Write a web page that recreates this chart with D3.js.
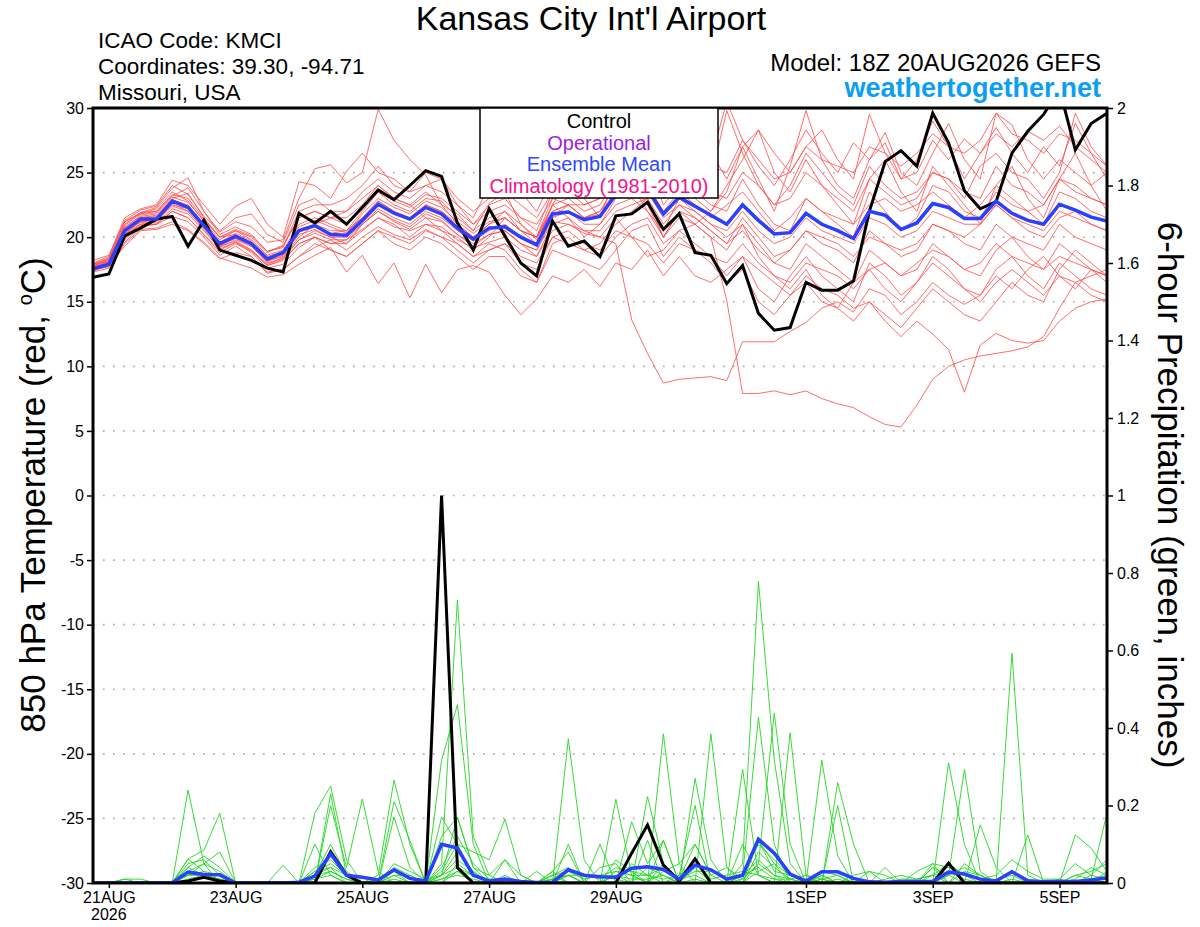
<!DOCTYPE html>
<html>
<head>
<meta charset="utf-8">
<script src="https://d3js.org/d3.v7.min.js"></script>
<style>
  html, body { margin: 0; padding: 0; background: #fff; }
  svg { display: block; font-family: "Liberation Sans", Arial, Helvetica, sans-serif; }
</style>
</head>
<body>
<div id="chart"></div>
<script>
// run info
const runStart = Date.UTC(2026, 7, 20, 18);
const stepHours = 6;

// 850 hPa temperature, control run (deg C)
const tempControl = [
  16.9,17.15,20.1,20.7,21.4,21.6,19.3,21.3,19.0,18.6,18.2,17.6,17.3,
  21.85,21.1,22.0,21.0,22.3,23.65,22.9,24.0,25.15,24.7,21.1,19.0,22.2,
  20.1,18.0,17.0,21.25,19.3,19.7,18.5,21.65,21.8,22.7,20.6,21.8,18.8,
  18.6,16.4,17.8,14.1,12.8,13.0,16.5,15.9,15.9,16.6,22.0,25.85,26.7,
  25.5,29.6,27.3,23.6,22.2,22.75,26.5,28.2,29.5,31.5,26.75,28.8,29.6
];
// ensemble mean temperature
const tempMean = [
  17.55,17.9,20.5,21.4,21.4,22.8,22.3,20.9,19.5,20.05,19.5,18.3,18.8,
  20.5,20.9,20.2,20.15,21.3,22.55,21.85,21.4,22.3,21.8,20.7,19.85,20.7,
  20.8,20.0,19.4,21.8,21.95,21.35,21.6,23.3,23.6,23.7,21.8,23.1,22.4,
  21.7,21.0,22.5,21.3,20.25,20.35,21.85,21.0,20.5,19.9,22.0,21.7,20.6,
  21.1,22.6,22.3,21.45,21.45,22.8,21.85,21.3,21.0,22.55,22.1,21.55,21.25
];
// 6-hour precipitation, control run (inches)
const precipControl = [
  0,0,0,0,0,0,0.005,0.015,0.005,0,0,0,0,
  0,0,0.081,0.02,0,0,0,0,0,1.0,0.04,0,0,
  0,0,0,0,0,0,0,0,0.077,0.15,0.046,0.005,0.062,
  0,0,0,0,0,0,0,0,0,0,0,0,0,
  0,0,0.051,0,0,0,0,0,0,0.004,0,0,0
];
// ensemble mean precipitation
const precipMean = [
  0,0,0,0,0,0.001,0.028,0.022,0.021,0,0,0,0,
  0.002,0.018,0.075,0.02,0.015,0.008,0.034,0.012,0.005,0.1,0.09,0.02,0.005,
  0.01,0.004,0.001,0.002,0.034,0.02,0.016,0.015,0.038,0.042,0.035,0.01,0.046,
  0.034,0.01,0.02,0.113,0.077,0.023,0.005,0.029,0.029,0.012,0.003,0.002,0.004,
  0.004,0.004,0.028,0.023,0.01,0.005,0.029,0.006,0.003,0.004,0.004,0.008,0.013
];

// ensemble members, temperature
const tempMembers = [
  [17.9,18.4,21.2,21.9,22.3,23.8,24.6,22.0,20.4,21.2,20.8,19.6,19.8,
   23.0,25.3,25.6,24.2,25.0,29.9,27.5,26.0,24.8,22.5,21.8,20.5,22.6,
   23.5,21.0,19.8,22.5,24.6,23.0,21.5,25.0,24.0,22.0,20.5,23.0,25.5,
   26.6,24.5,27.0,28.3,25.0,23.5,26.0,24.0,22.5,21.0,24.5,26.0,23.5,
   22.0,25.5,24.0,22.5,21.0,24.0,25.5,23.0,21.5,24.5,26.5,24.0,22.0],
  [17.4,17.8,19.6,20.8,21.0,22.0,21.5,20.2,19.0,19.6,18.8,17.6,17.9,
   19.2,20.0,19.5,19.8,20.6,21.5,20.8,20.5,21.0,20.8,19.8,19.2,19.6,
   20.0,19.0,18.5,20.5,21.0,20.3,20.0,21.5,20.0,18.5,19.0,20.5,21.0,
   20.0,15.1,7.9,7.9,8.1,7.8,8.1,7.5,7.1,6.8,6.1,5.5,5.3,
   7.0,9.0,10.0,10.5,10.8,11.0,11.2,11.5,12.3,14.5,16.5,17.0,17.5],
  [17.6,18.0,20.2,21.0,21.2,22.4,22.0,20.6,19.2,19.8,19.3,18.0,18.4,
   19.8,20.5,20.0,19.5,21.0,22.0,21.2,20.6,21.5,21.2,20.2,19.5,20.2,
   20.5,19.5,19.0,21.2,21.0,20.5,20.0,19.5,13.6,11.0,8.7,9.0,9.1,
   9.2,8.9,11.9,11.9,11.9,12.7,13.4,14.5,15.0,14.2,16.0,15.5,14.0,
   15.0,16.5,15.5,14.8,15.5,17.0,16.0,17.5,18.5,17.0,16.0,17.5,16.5],
  [17.5,17.7,19.8,20.9,21.0,21.6,21.2,20.0,18.6,19.3,18.5,17.2,17.5,
   18.5,19.2,19.8,19.0,20.0,20.8,20.2,19.8,20.6,20.0,19.5,18.5,19.0,
   19.5,18.0,17.5,20.0,20.5,19.5,19.0,20.5,20.0,19.5,18.0,19.5,19.0,
   18.5,17.0,18.5,17.5,16.5,15.5,17.0,16.0,15.5,14.5,15.0,13.5,12.3,
   13.5,12.5,11.3,8.0,11.65,12.55,12.0,11.8,12.0,13.5,14.5,15.0,15.2],
  [18.0,18.5,21.5,22.2,22.5,24.4,24.0,22.5,21.0,22.4,23.0,21.0,20.0,
   24.3,24.0,23.0,25.1,26.5,25.0,24.5,23.5,25.0,24.5,22.5,21.5,24.0,
   25.0,23.5,22.0,24.5,26.0,25.5,24.0,27.0,28.0,26.5,24.0,27.5,28.5,
   26.0,30.5,27.5,25.5,24.0,26.0,28.3,26.5,25.0,27.3,26.0,28.1,25.0,
   24.0,26.5,28.8,26.0,24.5,29.6,28.7,26.0,24.5,26.0,25.0,24.0,25.0],
  [17.7,18.1,20.8,21.6,21.8,23.0,23.4,21.5,20.0,20.5,19.8,18.6,19.0,
   21.0,21.5,21.0,20.5,22.0,23.5,22.5,22.0,23.0,22.8,21.5,20.5,21.5,
   22.0,20.5,20.0,22.5,23.0,22.0,22.5,24.5,25.0,25.5,23.0,24.5,23.5,
   22.5,22.0,24.5,22.5,21.0,20.5,23.0,22.0,21.0,20.0,23.5,22.0,20.5,
   21.5,24.0,23.5,22.0,21.5,23.5,22.5,22.0,21.0,23.5,23.0,22.0,21.5],
  [17.3,17.6,19.5,20.6,20.7,21.2,20.6,19.6,18.4,18.0,17.6,16.9,17.1,
   17.9,18.6,19.2,17.3,18.6,16.4,18.0,15.3,17.9,15.7,17.5,17.8,17.3,
   15.5,14.0,15.2,17.0,16.5,17.5,16.2,18.0,17.5,19.0,17.0,18.5,17.0,
   16.5,17.5,18.5,16.0,15.0,17.0,18.5,17.0,16.0,15.0,18.0,17.0,15.5,
   16.5,18.0,17.0,16.0,15.5,17.5,18.5,17.0,16.0,18.0,17.0,16.0,15.5],
  [17.8,18.2,21.0,21.9,22.0,23.2,23.8,22.0,20.2,20.8,20.2,18.9,19.2,
   22.0,22.5,22.5,23.0,24.0,25.5,24.0,23.5,24.0,23.5,22.5,21.0,22.5,
   23.0,21.5,20.5,23.5,24.5,23.0,23.5,26.0,26.5,27.0,25.0,26.0,25.5,
   24.5,29.8,26.5,24.0,22.5,24.0,26.5,25.0,23.5,22.5,25.5,24.0,23.0,
   23.5,25.0,24.5,23.0,25.5,26.5,25.0,24.5,23.0,25.0,29.6,27.0,25.5],
  [17.5,17.9,20.3,21.2,21.3,22.6,22.0,20.7,19.4,19.9,19.3,18.1,18.6,
   20.2,20.6,20.0,20.0,21.0,22.2,21.5,21.0,22.0,21.5,20.5,19.7,20.5,
   21.0,20.0,19.5,21.5,22.0,21.0,21.0,22.5,23.0,23.5,21.5,22.5,22.0,
   21.0,20.5,22.0,20.5,19.5,20.0,21.5,20.5,20.0,19.5,21.5,21.0,20.0,
   20.5,22.0,21.5,21.0,21.0,22.5,21.5,21.0,20.5,22.0,21.5,21.0,20.5],
  [17.9,18.3,21.2,21.8,22.2,23.5,22.8,21.2,19.8,20.5,20.0,18.8,19.4,
   21.5,22.0,21.5,21.0,22.5,24.0,23.0,22.5,23.5,22.5,21.0,20.0,21.0,
   22.0,21.0,20.0,23.0,22.5,21.5,22.0,24.0,25.5,26.0,22.5,24.0,23.0,
   22.0,24.0,26.0,28.3,26.5,25.0,27.0,28.3,26.0,24.5,29.5,26.5,24.5,
   25.0,27.5,26.0,27.6,26.5,28.0,27.0,28.2,27.5,28.6,27.0,26.0,25.0],
  [17.6,17.9,20.0,21.0,21.0,22.0,21.5,20.2,18.8,19.5,18.9,17.8,18.2,
   19.5,20.0,19.5,19.5,20.5,21.5,21.0,20.0,21.0,20.5,19.5,18.5,19.5,
   19.0,17.5,16.5,19.0,18.5,18.0,17.5,19.0,20.5,21.0,18.5,20.0,19.0,
   18.0,16.5,17.5,15.0,14.0,15.5,16.5,15.0,14.5,16.5,17.5,16.0,15.0,
   16.5,18.5,17.5,16.0,15.0,16.5,17.5,16.5,15.5,17.0,16.5,15.5,15.0],
  [17.4,17.8,19.9,21.1,21.5,22.9,22.5,21.0,19.6,20.3,19.7,18.5,18.9,
   20.8,21.3,20.8,20.3,21.8,23.0,22.3,21.8,22.8,22.3,21.2,20.3,21.2,
   21.5,20.5,20.0,22.0,22.5,21.5,21.8,23.5,24.5,24.0,22.0,23.5,22.5,
   21.5,22.5,23.5,22.0,20.5,21.5,23.0,22.0,21.5,21.0,22.5,23.0,22.0,
   22.5,23.5,22.5,21.5,22.5,24.0,23.0,22.0,22.5,24.5,23.5,23.0,22.5],
  [17.7,18.0,20.6,21.5,21.6,22.7,22.2,20.8,19.3,20.0,19.6,18.4,18.7,
   20.4,20.8,20.3,20.5,21.5,22.8,22.0,21.5,22.5,22.0,20.8,20.0,20.8,
   20.5,19.5,19.0,21.5,22.5,22.5,23.0,24.5,23.0,22.0,20.0,22.0,21.5,
   20.5,19.5,21.5,20.0,18.5,19.0,20.5,19.5,19.0,18.0,20.5,19.5,18.5,
   19.0,21.0,20.5,19.5,19.0,21.0,20.0,19.5,19.0,21.0,20.0,19.5,19.0],
  [18.2,18.6,21.3,22.1,22.4,24.0,23.3,21.6,20.5,21.5,21.8,20.2,19.6,
   22.5,23.0,22.0,22.0,23.5,24.5,23.5,23.0,24.0,24.5,23.0,22.0,23.0,
   23.5,22.5,21.5,23.5,24.0,23.0,24.5,25.5,26.0,25.0,23.0,25.0,24.5,
   23.5,23.0,25.0,24.0,22.5,23.0,25.0,24.0,23.0,22.0,24.5,23.5,22.5,
   23.0,25.0,24.5,23.5,23.0,25.5,24.0,23.5,22.5,24.5,24.0,23.0,22.5],
  [17.5,17.8,19.3,20.5,20.6,21.0,20.5,19.5,18.3,18.8,18.5,17.3,17.5,
   18.5,19.5,19.0,18.5,19.5,20.5,19.5,19.0,20.0,19.5,18.5,17.5,18.5,
   18.5,17.0,16.5,19.5,20.0,19.0,19.5,21.0,22.0,23.0,20.0,22.0,21.0,
   20.0,19.0,21.0,19.5,18.0,17.5,19.5,18.5,17.5,16.5,19.0,18.0,17.0,
   17.5,19.5,18.5,17.5,17.0,19.0,20.0,18.5,17.5,19.5,18.5,17.5,17.0],
  [17.8,18.2,20.7,21.7,21.9,23.1,22.7,21.3,20.0,20.2,19.4,18.2,18.5,
   20.0,21.0,21.5,22.0,23.0,24.0,23.0,22.5,21.5,20.5,20.0,19.0,20.0,
   21.5,20.5,19.5,22.5,21.5,20.0,21.0,23.0,24.0,22.5,20.0,21.5,21.0,
   22.0,23.5,27.0,24.5,22.0,25.5,29.8,26.0,24.0,23.0,26.0,27.3,24.5,
   26.0,29.0,27.0,24.5,26.5,28.5,26.5,25.0,27.0,25.5,28.8,26.5,24.5],
  [17.6,18.0,20.4,21.3,21.3,22.5,22.2,20.8,19.3,19.7,19.0,17.8,18.3,
   19.5,20.0,19.0,18.5,19.5,20.5,20.0,19.5,20.5,20.0,19.0,18.0,19.0,
   19.5,18.5,18.0,20.0,19.5,19.0,18.5,20.0,21.0,21.5,19.5,20.5,19.5,
   18.5,18.0,19.5,18.0,17.0,16.5,18.0,17.5,17.0,16.0,17.5,18.0,17.0,
   18.0,19.0,18.5,17.5,18.0,19.5,18.5,18.0,17.5,18.5,18.0,17.5,17.0],
  [17.9,18.3,20.9,21.8,22.0,23.3,23.0,21.4,20.0,20.6,20.1,18.9,19.3,
   21.5,22.0,21.5,21.5,22.5,23.5,22.8,22.3,23.3,23.0,22.0,21.0,22.0,
   22.5,21.5,21.0,23.0,23.5,22.5,23.0,25.0,26.0,26.5,24.5,26.5,27.0,
   25.5,25.0,27.5,26.0,24.5,25.0,27.0,26.0,25.5,25.0,27.0,26.5,25.5,
   26.5,28.0,27.0,26.5,27.5,29.6,28.0,27.5,26.5,28.0,27.5,26.5,25.5],
  [17.5,17.9,20.2,21.2,21.1,22.2,21.8,20.5,19.1,19.6,19.0,17.9,18.4,
   19.8,20.3,19.8,19.8,21.0,22.0,21.3,20.8,21.8,21.3,20.2,19.3,20.2,
   20.5,19.5,18.5,21.0,21.5,20.5,20.5,22.0,22.5,23.0,21.0,22.5,21.5,
   20.5,19.5,20.5,19.0,18.0,19.0,20.5,20.0,19.5,18.5,20.0,19.5,19.0,
   19.5,21.0,20.5,20.0,21.0,22.5,21.5,20.5,20.0,21.5,22.0,21.0,20.5],
  [17.8,18.1,20.5,21.5,21.7,22.9,22.4,21.0,19.6,20.2,19.6,18.4,18.9,
   20.6,21.0,20.5,20.5,21.5,22.8,22.0,21.5,22.5,22.0,21.0,20.0,21.0,
   21.5,20.5,20.0,22.0,22.5,21.5,22.0,23.5,24.0,24.0,22.0,23.0,22.0,
   21.0,20.0,21.0,18.5,17.0,16.0,17.5,15.5,14.5,13.5,15.0,14.0,13.0,
   14.5,16.0,15.0,14.0,13.5,15.0,16.5,15.5,15.0,17.5,19.0,18.0,17.0]
];

// ensemble members, precipitation
const precipMembers = [
  [0,0,0,0,0,0,0.24,0.05,0,0,0,0,0,
   0,0.02,0.1,0.02,0,0,0.02,0,0,0.05,0.73,0.12,0.02,
   0,0,0,0,0.02,0,0,0,0.05,0.02,0,0.01,0.1,
   0.02,0,0.05,0.778,0.317,0.05,0,0,0.01,0,0,0,0,
   0,0,0.05,0.02,0,0,0.01,0,0,0,0.02,0.01,0],
  [0,0,0.01,0,0,0,0.062,0.085,0.18,0,0,0,0,
   0,0.18,0.25,0.06,0,0,0.03,0,0,0.317,0.46,0.1,0,
   0,0,0,0,0,0,0,0.216,0.02,0,0,0,0,
   0,0,0.01,0.05,0.438,0.1,0,0.02,0,0,0,0,0,
   0,0,0.02,0.293,0.03,0,0,0,0,0,0,0,0],
  [0,0,0,0,0,0,0.04,0.07,0.04,0,0,0,0,
   0,0,0.23,0.02,0,0.02,0.266,0.1,0,0.02,0.17,0.04,0,
   0,0,0,0,0.372,0.06,0,0,0,0.223,0.05,0,0,
   0.385,0.04,0,0.11,0.05,0,0,0,0,0,0,0,0,
   0,0,0,0,0,0,0.593,0.02,0,0,0,0,0],
  [0,0,0,0,0,0,0.062,0.03,0,0,0,0,0,
   0,0,0.2,0.04,0.217,0.03,0,0,0,0.17,0.1,0.08,0.06,
   0.165,0.02,0,0,0.1,0,0,0,0.158,0.05,0.11,0,0,
   0,0,0.02,0.428,0.1,0,0,0,0,0,0,0,0,
   0,0,0,0,0,0,0,0,0,0,0,0.01,0.18],
  [0,0,0.01,0.01,0,0,0.02,0.03,0.02,0,0,0,0,
   0,0.03,0.04,0.02,0,0,0.21,0.11,0,0.12,0.17,0.04,0.02,
   0.06,0,0,0.03,0,0,0.04,0.05,0,0,0.385,0.05,0,
   0,0,0.293,0.02,0,0,0,0.317,0.07,0,0,0.04,0,
   0,0,0.31,0.1,0,0,0,0,0,0,0,0,0.03],
  [0,0,0,0,0,0,0.03,0.05,0.08,0,0,0,0,
   0,0.1,0.02,0,0,0,0.17,0.04,0,0.02,0.06,0.03,0,
   0.02,0,0,0.03,0.08,0,0.1,0,0,0,0.11,0,0.27,
   0.06,0,0,0.05,0.02,0,0,0,0.259,0.1,0,0,0,
   0,0.05,0,0,0.15,0.04,0,0,0,0,0,0,0],
  [0,0,0,0,0,0,0,0,0,0,0,0,0.046,
   0,0.02,0.04,0,0,0,0,0,0,0.03,0.1,0.02,0,
   0,0,0.03,0,0.02,0,0,0.02,0,0.11,0,0.02,0.2,
   0,0,0.1,0.02,0,0.388,0.02,0,0.2,0,0.03,0,0,
   0,0.04,0,0,0,0,0,0.124,0,0,0.124,0.09,0.03],
  [0,0,0,0,0,0,0.02,0.02,0,0,0,0,0,
   0,0.03,0.05,0.02,0,0,0.02,0.02,0,0.01,0.02,0.01,0,
   0.06,0.02,0,0.02,0.03,0.01,0.02,0.03,0.02,0,0.03,0.05,0.1,
   0.02,0.04,0.01,0.11,0.03,0.02,0,0.02,0,0.02,0.03,0.02,0,
   0.03,0.05,0.04,0.02,0.01,0.02,0.06,0.03,0.01,0.01,0.05,0.02,0.01],
  [0,0,0,0,0,0,0.01,0.02,0.01,0,0,0,0,
   0,0.01,0.03,0.01,0,0.01,0.03,0.01,0,0.02,0.04,0.02,0.01,
   0.01,0,0,0.01,0.02,0.02,0.01,0.04,0.03,0.02,0.01,0.02,0.05,
   0.01,0.02,0.03,0.02,0.01,0.01,0.02,0.01,0,0.01,0,0.01,0.02,
   0.01,0.02,0.03,0.01,0,0.01,0.02,0,0,0,0,0.01,0.02],
  [0,0,0,0,0,0,0,0,0,0,0,0,0,
   0,0.02,0.03,0.01,0,0,0.05,0.03,0.01,0.02,0.08,0.03,0,
   0,0,0,0,0,0,0,0.03,0.02,0.02,0.04,0.01,0.03,
   0.03,0.01,0.02,0.06,0.02,0.01,0,0.01,0.02,0,0,0,0,
   0,0,0.02,0.04,0.02,0,0.03,0.01,0,0,0,0.02,0.06],
  [0,0,0,0,0,0,0,0,0,0,0,0,0,
   0,0,0,0,0,0,0,0,0,0,0.03,0.02,0,
   0,0,0,0.02,0,0,0,0,0,0,0,0,0,
   0,0,0,0.03,0.05,0.02,0.01,0,0,0,0,0,0,
   0,0.04,0.02,0,0,0,0,0,0,0,0,0,0],
  [0,0,0,0,0,0,0.04,0.02,0.01,0,0,0,0,
   0,0.04,0.06,0.02,0,0,0.01,0,0,0.01,0.03,0,0,
   0,0,0,0.02,0.04,0.01,0.02,0.01,0,0.04,0.02,0,0.04,
   0,0,0.02,0.04,0.01,0,0,0.03,0.02,0,0,0,0.01,
   0.01,0.02,0,0.03,0.02,0,0,0,0,0,0.02,0.03,0.05],
  [0,0,0,0,0,0,0.02,0.05,0.03,0,0,0,0,
   0,0.01,0.02,0,0,0,0,0,0,0,0.05,0.02,0,
   0,0,0,0,0,0,0,0.02,0.01,0.01,0.02,0,0.01,
   0,0,0,0.08,0.04,0.01,0,0,0,0,0,0,0,
   0,0,0,0.05,0.02,0,0,0,0,0.01,0,0,0],
  [0,0,0,0,0,0,0.05,0.06,0.02,0,0,0,0,
   0,0.02,0.08,0.03,0,0,0.04,0.02,0,0.04,0.12,0.05,0.01,
   0,0,0,0.01,0.02,0,0,0.06,0.03,0,0.05,0.01,0.02,
   0,0,0.02,0.1,0.06,0.02,0,0.01,0,0,0,0,0,
   0,0.02,0.05,0.02,0.01,0,0,0,0,0,0.01,0.04,0.02]
];

// axis ticks
const tempTicks = [-30, -25, -20, -15, -10, -5, 0, 5, 10, 15, 20, 25, 30];
const precipTicks = [0, 0.2, 0.4, 0.6, 0.8, 1, 1.2, 1.4, 1.6, 1.8, 2];
const dateTicks = ["2026-08-21", "2026-08-23", "2026-08-25", "2026-08-27",
                   "2026-08-29", "2026-09-01", "2026-09-03", "2026-09-05"];
const dateLabels = ["21AUG", "23AUG", "25AUG", "27AUG", "29AUG", "1SEP", "3SEP", "5SEP"];

const legendItems = [
  { label: "Control", color: "#000000" },
  { label: "Operational", color: "#9a1ee6" },
  { label: "Ensemble Mean", color: "#2f47ff" },
  { label: "Climatology (1981-2010)", color: "#f0148c" }
];

const width = 1200, height = 927;
const plot = { left: 93, right: 1107, top: 108, bottom: 883 };

const times = tempMean.map((d, i) => new Date(runStart + i * stepHours * 3600e3));

const x = d3.scaleUtc()
  .domain([times[0], times[times.length - 1]])
  .range([plot.left, plot.right]);
const yT = d3.scaleLinear().domain([-30, 30]).range([plot.bottom, plot.top]);
const yP = d3.scaleLinear().domain([0, 2]).range([plot.bottom, plot.top]);

const svg = d3.select("#chart").append("svg")
  .attr("width", width)
  .attr("height", height);

svg.append("defs").append("clipPath").attr("id", "plotclip")
  .append("rect")
  .attr("x", plot.left).attr("y", plot.top)
  .attr("width", plot.right - plot.left)
  .attr("height", plot.bottom - plot.top);

// dotted grid on temperature ticks
svg.append("g").selectAll("line")
  .data(tempTicks.filter(d => d > -30 && d < 30))
  .enter().append("line")
  .attr("x1", plot.left).attr("x2", plot.right)
  .attr("y1", d => yT(d)).attr("y2", d => yT(d))
  .attr("stroke", "#aaaaaa")
  .attr("stroke-width", 1.6)
  .attr("stroke-dasharray", "1.6,8.4");

const lineT = d3.line().x((d, i) => x(times[i])).y(d => yT(d));
const lineP = d3.line().x((d, i) => x(times[i])).y(d => yP(d));

const marks = svg.append("g").attr("clip-path", "url(#plotclip)");

marks.selectAll("path.member-t")
  .data(tempMembers)
  .enter().append("path")
  .attr("class", "member-t")
  .attr("d", lineT)
  .attr("fill", "none")
  .attr("stroke", "#ff4a4a")
  .attr("stroke-opacity", 0.9)
  .attr("stroke-width", 0.9);

marks.selectAll("path.member-p")
  .data(precipMembers)
  .enter().append("path")
  .attr("class", "member-p")
  .attr("d", lineP)
  .attr("fill", "none")
  .attr("stroke", "#22d622")
  .attr("stroke-width", 0.9);

marks.append("path").datum(tempControl)
  .attr("d", lineT).attr("fill", "none")
  .attr("stroke", "#000").attr("stroke-width", 3)
  .attr("stroke-linejoin", "miter");
marks.append("path").datum(precipControl)
  .attr("d", lineP).attr("fill", "none")
  .attr("stroke", "#000").attr("stroke-width", 3);

marks.append("path").datum(tempMean)
  .attr("d", lineT).attr("fill", "none")
  .attr("stroke", "#2a3fff").attr("stroke-width", 3.5);
marks.append("path").datum(precipMean)
  .attr("d", lineP).attr("fill", "none")
  .attr("stroke", "#2a3fff").attr("stroke-width", 3.5);

// axes
const fmt = d => String(+d.toFixed(1));

const leftAxis = svg.append("g")
  .attr("transform", `translate(${plot.left},0)`)
  .call(d3.axisLeft(yT).tickValues(tempTicks).tickFormat(fmt).tickSize(6).tickPadding(3));
const rightAxis = svg.append("g")
  .attr("transform", `translate(${plot.right},0)`)
  .call(d3.axisRight(yP).tickValues(precipTicks).tickFormat(fmt).tickSize(6).tickPadding(4));
const bottomAxis = svg.append("g")
  .attr("transform", `translate(0,${plot.bottom})`)
  .call(d3.axisBottom(x)
    .tickValues(dateTicks.map(d => new Date(d + "T00:00:00Z")))
    .tickFormat((d, i) => dateLabels[i])
    .tickSize(5).tickPadding(4));

[leftAxis, rightAxis, bottomAxis].forEach(g => {
  g.select(".domain").remove();
  g.selectAll(".tick line").attr("stroke", "#000").attr("stroke-width", 1.5);
  g.selectAll(".tick text")
    .attr("fill", "#000")
    .style("font-size", "16px")
    .style("font-family", "'Liberation Sans', Arial, sans-serif");
});

svg.append("text")
  .attr("x", x(new Date(dateTicks[0] + "T00:00:00Z")))
  .attr("y", 920)
  .attr("text-anchor", "middle")
  .style("font-size", "16px")
  .text("2026");

// frame
svg.append("rect")
  .attr("x", plot.left).attr("y", plot.top)
  .attr("width", plot.right - plot.left)
  .attr("height", plot.bottom - plot.top)
  .attr("fill", "none")
  .attr("stroke", "#000")
  .attr("stroke-width", 3);

// legend
const legend = svg.append("g");
legend.append("rect")
  .attr("x", 480).attr("y", plot.top)
  .attr("width", 238).attr("height", 90)
  .attr("fill", "#fff")
  .attr("stroke", "#000")
  .attr("stroke-width", 1.5);
legend.selectAll("text")
  .data(legendItems)
  .enter().append("text")
  .attr("x", 599)
  .attr("y", (d, i) => 128 + i * 21.5)
  .attr("text-anchor", "middle")
  .attr("fill", d => d.color)
  .style("font-size", "20px")
  .text(d => d.label);

// titles
svg.append("text")
  .attr("x", 591).attr("y", 30)
  .attr("text-anchor", "middle")
  .style("font-size", "34px")
  .text("Kansas City Int'l Airport");

const info = ["ICAO Code: KMCI", "Coordinates: 39.30, -94.71", "Missouri, USA"];
svg.append("g").selectAll("text")
  .data(info)
  .enter().append("text")
  .attr("x", 98)
  .attr("y", (d, i) => 48 + i * 26)
  .style("font-size", "22.5px")
  .text(d => d);

svg.append("text")
  .attr("x", 1101).attr("y", 71)
  .attr("text-anchor", "end")
  .style("font-size", "24px")
  .text("Model: 18Z 20AUG2026 GEFS");

svg.append("text")
  .attr("x", 1101).attr("y", 97)
  .attr("text-anchor", "end")
  .attr("fill", "#0a9ef5")
  .style("font-size", "27px")
  .style("font-weight", "bold")
  .text("weathertogether.net");

// axis titles
const leftTitle = svg.append("text")
  .attr("transform", "translate(45,495) rotate(-90)")
  .attr("text-anchor", "middle")
  .style("font-size", "35px");
leftTitle.append("tspan").text("850 hPa Temperature (red, ");
leftTitle.append("tspan").attr("dy", -13).style("font-size", "20px").text("o");
leftTitle.append("tspan").attr("dy", 13).text("C)");

svg.append("text")
  .attr("transform", "translate(1158,495) rotate(90)")
  .attr("text-anchor", "middle")
  .style("font-size", "35px")
  .text("6-hour Precipitation (green, inches)");
</script>
</body>
</html>
